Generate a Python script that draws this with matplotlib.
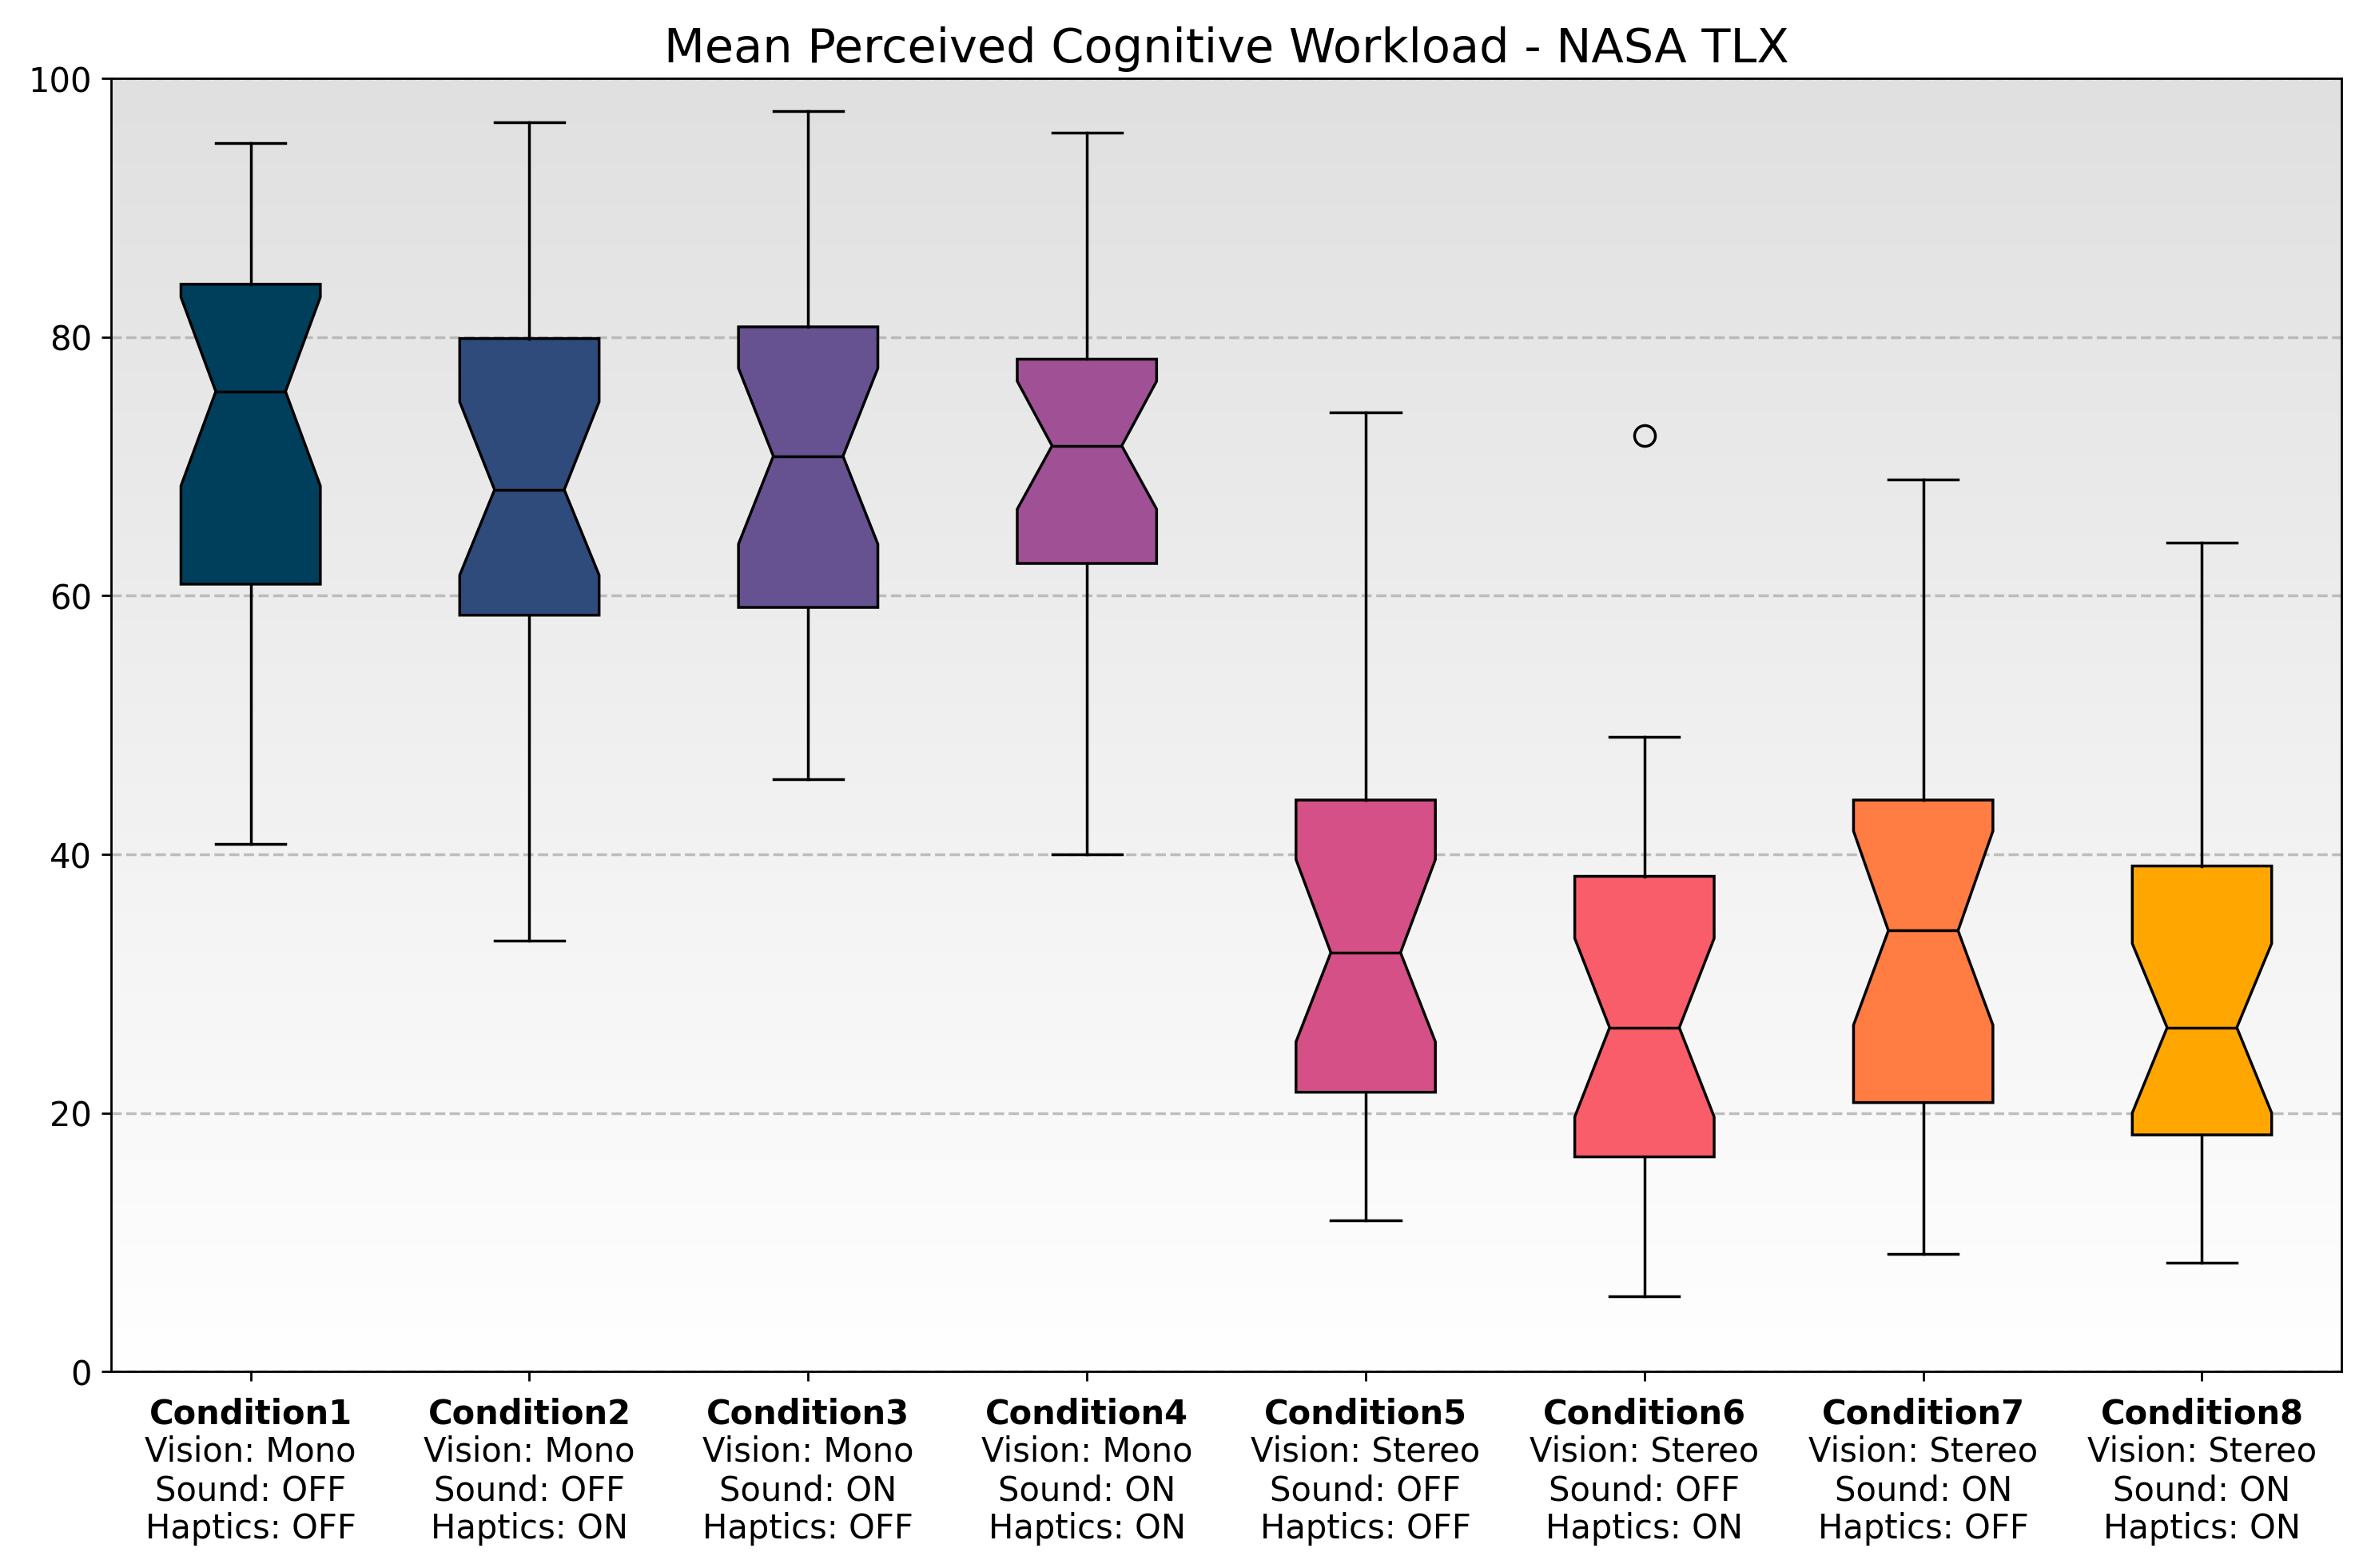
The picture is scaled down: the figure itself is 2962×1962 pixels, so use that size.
import numpy as np
import matplotlib
matplotlib.use("Agg")
import matplotlib.pyplot as plt
from matplotlib.colors import LinearSegmentedColormap

conditions = ["Condition1", "Condition2", "Condition3", "Condition4",
              "Condition5", "Condition6", "Condition7", "Condition8"]
vision = ["Mono", "Mono", "Mono", "Mono", "Stereo", "Stereo", "Stereo", "Stereo"]
sound = ["OFF", "OFF", "ON", "ON", "OFF", "OFF", "ON", "ON"]
haptics = ["OFF", "ON", "OFF", "ON", "OFF", "ON", "OFF", "ON"]

whishi = [95.0, 96.6, 97.5, 95.8, 74.2, 49.1, 69.0, 64.1]
q3 = [84.1, 79.9, 80.8, 78.3, 44.2, 38.3, 44.2, 39.1]
med = [75.8, 68.2, 70.8, 71.6, 32.4, 26.6, 34.1, 26.6]
q1 = [60.9, 58.5, 59.1, 62.5, 21.6, 16.6, 20.8, 18.3]
whislo = [40.8, 33.3, 45.8, 40.0, 11.7, 5.8, 9.1, 8.4]
cilo = [68.5, 61.6, 64.0, 66.7, 25.5, 19.7, 26.8, 20.0]
cihi = [83.1, 75.0, 77.6, 76.6, 39.6, 33.5, 41.8, 33.1]
fliers = [[], [], [], [], [], [72.4], [], []]

colors = ["#003f5c", "#2f4b7c", "#665191", "#a05195",
          "#d45087", "#f95d6a", "#ff7c43", "#ffa600"]

fig = plt.figure(figsize=(11.85, 7.85), dpi=250)
ax = fig.add_axes([0.047, 0.1253, 0.989 - 0.047, 0.9496 - 0.1253])

# background gradient
cmap = LinearSegmentedColormap.from_list("bg", ["#ffffff", "#e0e0e0"])
grad = np.linspace(0, 1, 256).reshape(-1, 1)
ax.imshow(grad, extent=[0.5, 8.5, 0, 100], origin="lower", aspect="auto",
          cmap=cmap, zorder=0)

stats = []
for i in range(len(conditions)):
    stats.append(dict(med=med[i], q1=q1[i], q3=q3[i], whislo=whislo[i],
                      whishi=whishi[i], cilo=cilo[i], cihi=cihi[i],
                      fliers=fliers[i], label=conditions[i]))

positions = np.arange(1, len(conditions) + 1)
bp = ax.bxp(stats, positions=positions, widths=0.5, shownotches=True,
            patch_artist=True,
            boxprops=dict(edgecolor="black", linewidth=1.0),
            medianprops=dict(color="black", linewidth=1.0),
            whiskerprops=dict(color="black", linewidth=1.0),
            capprops=dict(color="black", linewidth=1.0),
            flierprops=dict(marker="o", markerfacecolor="none",
                            markeredgecolor="black", markersize=7.5,
                            markeredgewidth=1.0))
for patch, c in zip(bp["boxes"], colors):
    patch.set_facecolor(c)
    patch.set_zorder(3)
for k in ["medians", "whiskers", "caps", "fliers"]:
    for a in bp[k]:
        a.set_zorder(4)

ax.yaxis.grid(True, linestyle="--", color="#b0b0b0", linewidth=1.0, alpha=0.8)
ax.set_axisbelow(True)
for gl in ax.get_ygridlines():
    gl.set_zorder(1)

ax.set_xlim(0.5, 8.5)
ax.set_ylim(0, 100)
ax.set_yticks([0, 20, 40, 60, 80, 100])
ax.tick_params(axis="both", labelsize=12)
ax.set_xticks(positions)
ax.set_xticklabels([""] * len(conditions))

trans = ax.get_xaxis_transform()
line_y = [-0.0402, -0.0692, -0.0995, -0.1286]
for i, p in enumerate(positions):
    ax.text(p, line_y[0], conditions[i], transform=trans, ha="center",
            va="baseline", fontsize=12, fontweight="bold")
    ax.text(p, line_y[1], "Vision: %s" % vision[i], transform=trans,
            ha="center", va="baseline", fontsize=12)
    ax.text(p, line_y[2], "Sound: %s" % sound[i], transform=trans,
            ha="center", va="baseline", fontsize=12)
    ax.text(p, line_y[3], "Haptics: %s" % haptics[i], transform=trans,
            ha="center", va="baseline", fontsize=12)

ax.set_title("Mean Perceived Cognitive Workload - NASA TLX", fontsize=17)

fig.savefig("out.png", dpi=250)
